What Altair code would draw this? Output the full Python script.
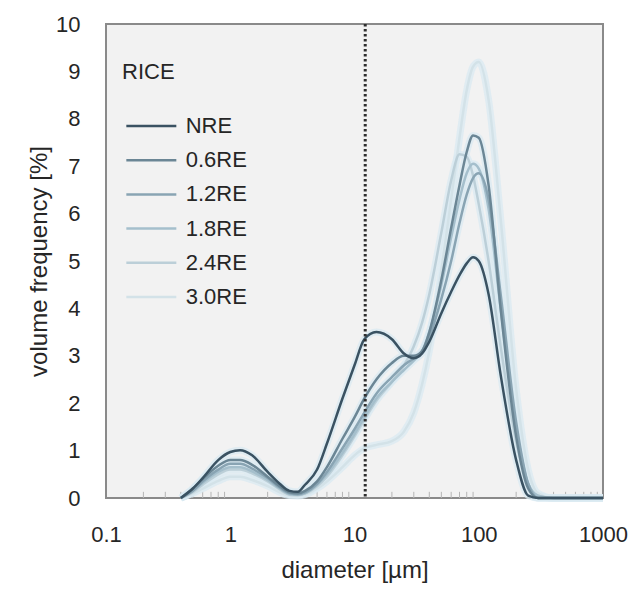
import altair as alt
import pandas as pd

diameters = [0.4, 0.5, 0.6, 0.8, 1.0, 1.2, 1.5, 2.0, 2.5, 3.0, 3.5, 4.0, 5.0, 6.0, 8.0,
             10, 12, 15, 20, 25, 30, 35, 40, 50, 60, 70, 80, 90, 100, 120, 150, 200,
             250, 300, 400, 1000]

series_names = ["NRE", "0.6RE", "1.2RE", "1.8RE", "2.4RE", "3.0RE"]

nre = [0, 0.2, 0.42, 0.8, 0.97, 1.01, 0.9, 0.55, 0.3, 0.15, 0.13, 0.28, 0.6, 1.15, 2.1,
       2.8, 3.35, 3.5, 3.35, 3.05, 2.95, 3.05, 3.3, 3.9, 4.35, 4.7, 4.95, 5.08, 5.0, 4.3,
       2.6, 0.8, 0.05, 0, 0, 0]
re06 = [0, 0.2, 0.4, 0.68, 0.8, 0.8, 0.7, 0.45, 0.25, 0.12, 0.1, 0.15, 0.35, 0.65, 1.25,
        1.7, 2.1, 2.5, 2.85, 3.0, 3.0, 3.1, 3.5, 4.6, 5.7, 6.6, 7.3, 7.65, 7.6, 6.6,
        4.0, 1.3, 0.2, 0, 0, 0]
re12 = [0, 0.15, 0.35, 0.6, 0.72, 0.72, 0.62, 0.42, 0.22, 0.1, 0.08, 0.12, 0.3, 0.55, 1.05,
        1.45, 1.8, 2.2, 2.55, 2.8, 2.95, 3.1, 3.4, 4.2, 5.0, 5.8, 6.4, 6.75, 6.85, 6.3,
        4.3, 1.6, 0.3, 0, 0, 0]
re18 = [0, 0.15, 0.32, 0.55, 0.65, 0.65, 0.56, 0.38, 0.2, 0.08, 0.07, 0.1, 0.28, 0.5, 0.95,
        1.35, 1.7, 2.1, 2.45, 2.7, 2.9, 3.1, 3.5, 4.5, 5.5, 6.3, 6.85, 7.05, 6.95, 6.1,
        4.0, 1.5, 0.3, 0.05, 0, 0]
re24 = [0, 0.12, 0.28, 0.5, 0.6, 0.6, 0.52, 0.35, 0.18, 0.07, 0.06, 0.1, 0.25, 0.45, 0.9,
        1.3, 1.65, 2.05, 2.45, 2.8, 3.2, 3.7, 4.3, 5.6, 6.7, 7.25, 7.2, 6.8, 6.2, 5.0,
        3.2, 1.2, 0.3, 0.05, 0, 0]
re30 = [0, 0.1, 0.2, 0.36, 0.45, 0.45, 0.38, 0.25, 0.12, 0.05, 0.04, 0.07, 0.2, 0.35, 0.65,
        0.9, 1.05, 1.12, 1.2, 1.4, 1.8, 2.4, 3.1, 4.8, 6.3, 7.6, 8.6, 9.1, 9.2, 8.4,
        5.9, 2.3, 0.6, 0.1, 0, 0]

series_values = [nre, re06, re12, re18, re24, re30]
series_colors = ["#3a5262", "#6b8695", "#89a4b3", "#a5bfcc", "#bccfd8", "#d3e2e8"]

x_ticks = [0.1, 1, 10, 100, 1000]
y_ticks = [0, 1, 2, 3, 4, 5, 6, 7, 8, 9, 10]
minor_ticks = [0.2, 0.3, 0.4, 0.5, 0.6, 0.7, 0.8, 0.9,
               2, 3, 4, 5, 6, 7, 8, 9,
               20, 30, 40, 50, 60, 70, 80, 90,
               200, 300, 400, 500, 600, 700, 800, 900]
cutoff = [12.2]

rows = []
for name, vals in zip(series_names, series_values):
    for d, v in zip(diameters, vals):
        rows.append({"series": name, "d": d, "v": v})
df = pd.DataFrame(rows)
# draw lightest first so NRE sits on top
df_draw = pd.concat([df[df["series"] == s] for s in reversed(series_names)])

FONT = "Liberation Sans"
TXT = "#262626"

x_scale = alt.Scale(type="log", domain=[0.1, 1000])
y_scale = alt.Scale(domain=[0, 10])

x_axis = alt.Axis(values=x_ticks, format="~g", labelFontSize=22, labelFont=FONT,
                  labelColor=TXT, labelPadding=26, labelFlush=False, ticks=False,
                  domain=False, grid=False,
                  title="diameter [µm]", titleFontSize=24, titleFont=FONT,
                  titleFontWeight="normal", titleColor=TXT, titlePadding=13)
y_axis = alt.Axis(values=y_ticks, labelFontSize=22, labelFont=FONT, labelColor=TXT,
                  labelPadding=26, ticks=False, domain=False, grid=False,
                  title="volume frequency [%]", titleFontSize=24, titleFont=FONT,
                  titleFontWeight="normal", titleColor=TXT, titlePadding=4)

base = alt.Chart(df_draw)

glow = base.mark_line(interpolate="monotone", strokeWidth=7, color="#d9eaf2",
                      opacity=0.75).encode(
    x=alt.X("d:Q", scale=x_scale, axis=x_axis),
    y=alt.Y("v:Q", scale=y_scale, axis=y_axis),
    detail="series:N",
)

lines = base.mark_line(interpolate="monotone", strokeWidth=2.5).encode(
    x=alt.X("d:Q", scale=x_scale),
    y=alt.Y("v:Q", scale=y_scale),
    color=alt.Color("series:N",
                    scale=alt.Scale(domain=series_names, range=series_colors),
                    legend=alt.Legend(title="RICE", orient="none", legendX=16, legendY=38,
                                      titleFontSize=22, titleFont=FONT,
                                      titleFontWeight="normal", titleColor=TXT,
                                      titlePadding=24, labelFontSize=22, labelFont=FONT,
                                      labelColor=TXT, labelOffset=27.7,
                                      symbolType="M-0.82,0H2.18",
                                      symbolSize=1111, symbolStrokeWidth=2.5,
                                      rowPadding=5.2, padding=0)),
)

minor_df = pd.DataFrame({"d": minor_ticks})
minor = alt.Chart(minor_df).mark_rule(color="#b5b5b5", strokeWidth=1).encode(
    x=alt.X("d:Q", scale=x_scale),
    y=alt.datum(0),
    y2=alt.datum(0.13),
)

cut_df = pd.DataFrame({"d": cutoff})
cut = alt.Chart(cut_df).mark_rule(color="#2e2e2e", strokeWidth=3,
                                  strokeDash=[2.5, 2.5]).encode(
    x=alt.X("d:Q", scale=x_scale),
)

chart = alt.layer(minor, glow, lines, cut).properties(
    width=497, height=474,
    padding={"left": 106, "top": 24, "right": 30, "bottom": 93},
    autosize=alt.AutoSizeParams(type="none"),
    background="white",
).configure_view(fill="#f2f2f2", stroke="#8a8a8a", strokeWidth=2)

chart.save("out.html", embed_options={"renderer": "svg", "actions": False})
